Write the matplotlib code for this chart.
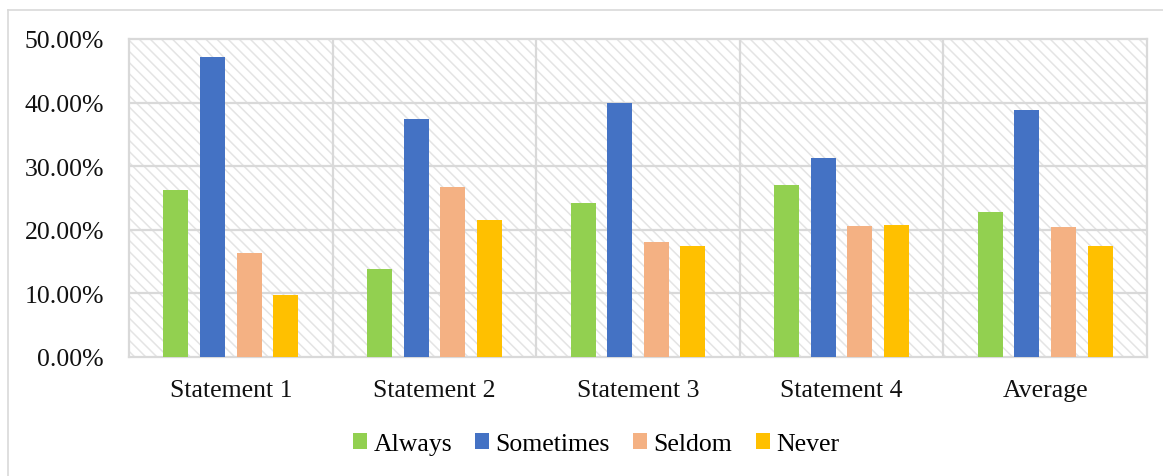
import matplotlib
matplotlib.use("Agg")
import matplotlib.pyplot as plt
import numpy as np
from matplotlib.patches import Rectangle
from matplotlib.lines import Line2D
from matplotlib.ticker import FuncFormatter

# data
categories = ["Statement 1", "Statement 2", "Statement 3", "Statement 4", "Average"]
always = [26.2, 13.9, 24.2, 27.0, 22.8]
sometimes = [47.1, 37.5, 40.0, 31.3, 38.9]
seldom = [16.3, 26.8, 18.1, 20.6, 20.5]
never = [9.7, 21.5, 17.5, 20.8, 17.4]

series = [("Always", always, "#92D050"),
          ("Sometimes", sometimes, "#4472C4"),
          ("Seldom", seldom, "#F4B183"),
          ("Never", never, "#FFC000")]

plt.rcParams["font.family"] = ["Liberation Serif", "DejaVu Serif"]
plt.rcParams["hatch.linewidth"] = 1.1

W, H = 1163, 477
fig = plt.figure(figsize=(W / 100, H / 100), dpi=100)
ax = fig.add_axes([129 / W, 1 - 358 / H, (1147 - 129) / W, (358 - 40) / H])

grid = "#d9d9d9"
fs = 18.5

# hatched plot background
ax.add_patch(Rectangle((0, 0), 1, 1, transform=ax.transAxes, facecolor="white",
                       edgecolor="#e4e4e4", hatch="\\\\\\", lw=0, zorder=0))

x = np.arange(len(categories))
width = 0.123
step = 0.18
for i, (name, vals, col) in enumerate(series):
    ax.bar(x + (i - 1.5) * step, vals, width, color=col, label=name, zorder=3)

ax.set_xlim(-0.5, len(categories) - 0.5)
ax.set_ylim(0, 50)
ax.set_yticks(np.arange(0, 51, 10))
ax.yaxis.set_major_formatter(FuncFormatter(lambda v, p: f"{v:.2f}%"))
ax.set_xticks(x)
ax.set_xticklabels(categories)
ax.tick_params(length=0, labelsize=fs, colors="#111111")
ax.tick_params(axis="y", pad=18)
ax.tick_params(axis="x", pad=16)

for v in range(10, 50, 10):
    ax.axhline(v, color=grid, lw=1.6, zorder=1)
for b in np.arange(0.5, len(categories) - 0.5, 1):
    ax.axvline(b, color=grid, lw=1.6, zorder=1)
for s in ax.spines.values():
    s.set_color(grid)
    s.set_linewidth(1.6)
    s.set_zorder(2)

# chart frame (left and top edges visible)
fig.add_artist(Line2D([8 / W, 8 / W], [0, 1 - 11 / H], color=grid, lw=1.2))
fig.add_artist(Line2D([8 / W, 1], [1 - 11 / H, 1 - 11 / H], color=grid, lw=1.2))

fig.legend(loc="center", bbox_to_anchor=(596 / W, 1 - 445 / H), ncol=4,
           frameon=False, prop={"family": "Liberation Serif", "size": fs},
           handlelength=0.55, handleheight=0.55,
           handletextpad=0.25, columnspacing=0.9)

fig.savefig("out.png", dpi=100)
